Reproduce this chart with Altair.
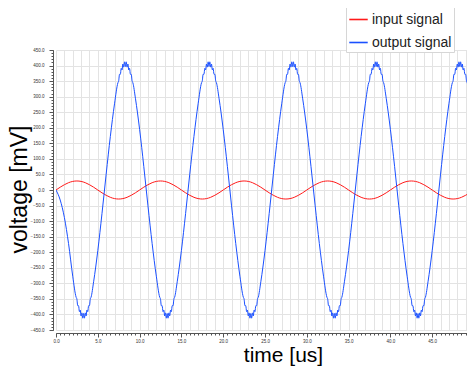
import altair as alt
import pandas as pd

# ---------------- data ----------------
# input signal [mV] sampled every 0.5 us from 0 to 50 us
input_t = [i * 0.5 for i in range(101)]
input_mv = [
    0, 9, 17, 23.5, 27.6, 29, 27.6, 23.5, 17, 9, 0, -9, -17, -23.5, -27.6, -29, -27.6, -23.5, -17, -9,
    0, 9, 17, 23.5, 27.6, 29, 27.6, 23.5, 17, 9, 0, -9, -17, -23.5, -27.6, -29, -27.6, -23.5, -17, -9,
    0, 9, 17, 23.5, 27.6, 29, 27.6, 23.5, 17, 9, 0, -9, -17, -23.5, -27.6, -29, -27.6, -23.5, -17, -9,
    0, 9, 17, 23.5, 27.6, 29, 27.6, 23.5, 17, 9, 0, -9, -17, -23.5, -27.6, -29, -27.6, -23.5, -17, -9,
    0, 9, 17, 23.5, 27.6, 29, 27.6, 23.5, 17, 9, 0, -9, -17, -23.5, -27.6, -29, -27.6, -23.5, -17, -9,
    0,
]

# output signal [mV], smooth flanks (us, mV)
output_flank_t = [
    0, 0.5, 1.0, 1.5, 2.0, 4.5, 5.0, 5.5, 6.0, 6.5, 7.0, 9.5,
    10, 10.5, 11.0, 11.5, 12.0, 14.5, 15.0, 15.5, 16.0, 16.5, 17.0, 19.5,
    20, 20.5, 21.0, 21.5, 22.0, 24.5, 25.0, 25.5, 26.0, 26.5, 27.0, 29.5,
    30, 30.5, 31.0, 31.5, 32.0, 34.5, 35.0, 35.5, 36.0, 36.5, 37.0, 39.5,
    40, 40.5, 41.0, 41.5, 42.0, 44.5, 45.0, 45.5, 46.0, 46.5, 47.0, 49.5,
    50,
]
output_flank_mv = [
    0, -32, -88, -172, -277, -295, -195, -76, 51, 172, 277, 295,
    195, 76, -51, -172, -277, -295, -195, -76, 51, 172, 277, 295,
    195, 76, -51, -172, -277, -295, -195, -76, 51, 172, 277, 295,
    195, 76, -51, -172, -277, -295, -195, -76, 51, 172, 277, 295,
    195, 76, -51, -172, -277, -295, -195, -76, 51, 172, 277, 295,
    195,
]

# output signal: noisy crest shape around every extremum (offset us, |mV|)
crest_offset_us = [-0.9, -0.8, -0.7, -0.6, -0.5, -0.4, -0.3, -0.2, -0.1, 0.0,
                   0.1, 0.2, 0.3, 0.4, 0.5, 0.6, 0.7, 0.8, 0.9]
crest_mv = [344, 351, 372, 372, 391, 386, 405, 395, 412, 397,
            412, 395, 405, 386, 391, 372, 372, 351, 344]
# extrema of the output signal: time [us] and polarity
extrema_t = [3.3, 8.3, 13.3, 18.3, 23.3, 28.3, 33.3, 38.3, 43.3, 48.3]
extrema_sign = [-1, 1, -1, 1, -1, 1, -1, 1, -1, 1]

series_names = ["input signal", "output signal"]
series_colors = ["#ff1a1a", "#1a50ff"]

y_major = list(range(-450, 451, 50))
y_minor = list(range(-450, 451, 10))
x_major = [0, 5, 10, 15, 20, 25, 30, 35, 40, 45, 50]
x_grid = list(range(0, 51))
x_minor = [i * 0.5 for i in range(101)]

# ---------------- build table ----------------
out_pts = list(zip(output_flank_t, output_flank_mv))
for tp, sg in zip(extrema_t, extrema_sign):
    for off, v in zip(crest_offset_us, crest_mv):
        out_pts.append((round(tp + off, 2), sg * v))
out_pts.sort(key=lambda p: p[0])

df = pd.DataFrame(
    {
        "time": input_t + [p[0] for p in out_pts],
        "voltage": input_mv + [p[1] for p in out_pts],
        "signal": [series_names[0]] * len(input_t) + [series_names[1]] * len(out_pts),
    }
)

FONT = "Liberation Sans"
xs = alt.Scale(domain=[0, 50], nice=False, zero=False)
ys = alt.Scale(domain=[-450, 450], nice=False, zero=False)

lab = dict(labelFont=FONT, labelFontSize=4.5, labelColor="#333333")

main = alt.Chart(df).mark_line(strokeWidth=1, interpolate="monotone", clip=True).encode(
    x=alt.X(
        "time:Q", scale=xs,
        axis=alt.Axis(
            orient="bottom", values=x_major, format=".1f", offset=3, grid=False,
            tickSize=4, tickColor="#555555", domainColor="#555555", labelPadding=1,
            title="time [us]", titleFont=FONT, titleFontSize=21, titleFontWeight="normal",
            titleColor="#000000", titleX=227, titleY=22, titleBaseline="middle",
            titleAnchor="middle", labelFlush=False, **lab,
        ),
    ),
    y=alt.Y(
        "voltage:Q", scale=ys,
        axis=alt.Axis(
            orient="left", values=y_major, format=".1f", offset=3, grid=True,
            gridColor="#e3e3e3", gridWidth=1,
            tickSize=4, tickColor="#555555", domainColor="#555555", labelPadding=5,
            title="voltage [mV]", titleFont=FONT, titleFontSize=23, titleFontWeight="normal",
            titleColor="#000000", titleX=-34, titleY=139, titleBaseline="middle",
            titleAngle=270, labelFlush=False, **lab,
        ),
    ),
    order=alt.Order("time:Q"),
    color=alt.Color(
        "signal:N",
        scale=alt.Scale(domain=series_names, range=series_colors),
        legend=alt.Legend(
            title=None, orient="none", legendX=290, legendY=-43,
            symbolType="stroke", symbolSize=340, symbolStrokeWidth=1.6,
            labelFont=FONT, labelFontSize=14, labelColor="#222222", labelOffset=3,
            rowPadding=5, padding=2, strokeColor="#d6d6d6", fillColor="#ffffff",
            offset=0,
        ),
    ),
)

xgrid = alt.Chart(pd.DataFrame({"t": x_grid})).mark_point(opacity=0).encode(
    x=alt.X(
        "t:Q", scale=xs,
        axis=alt.Axis(orient="bottom", values=x_grid, grid=True, gridColor="#e3e3e3",
                      labels=False, ticks=False, domain=False, title=None),
    )
)

xminor = alt.Chart(pd.DataFrame({"t": x_minor})).mark_point(opacity=0).encode(
    x=alt.X(
        "t:Q", scale=xs,
        axis=alt.Axis(orient="bottom", values=x_minor, grid=False, offset=3,
                      labels=False, ticks=True, tickSize=2, tickColor="#555555",
                      domain=False, title=None),
    )
)

yminor = alt.Chart(pd.DataFrame({"v": y_minor})).mark_point(opacity=0).encode(
    y=alt.Y(
        "v:Q", scale=ys,
        axis=alt.Axis(orient="left", values=y_minor, grid=False, offset=3,
                      labels=False, ticks=True, tickSize=2, tickColor="#555555",
                      domain=False, title=None),
    )
)

chart = (
    alt.layer(xgrid, xminor, yminor, main)
    .resolve_axis(x="independent", y="independent")
    .properties(
        width=418, height=280,
        autosize=alt.AutoSizeParams(type="none"),
        padding={"left": 48, "top": 42, "right": -7, "bottom": 36},
        background="#ffffff",
    )
    .configure_view(strokeWidth=0)
)

chart.save("out.html", embed_options={"renderer": "svg", "actions": False})
